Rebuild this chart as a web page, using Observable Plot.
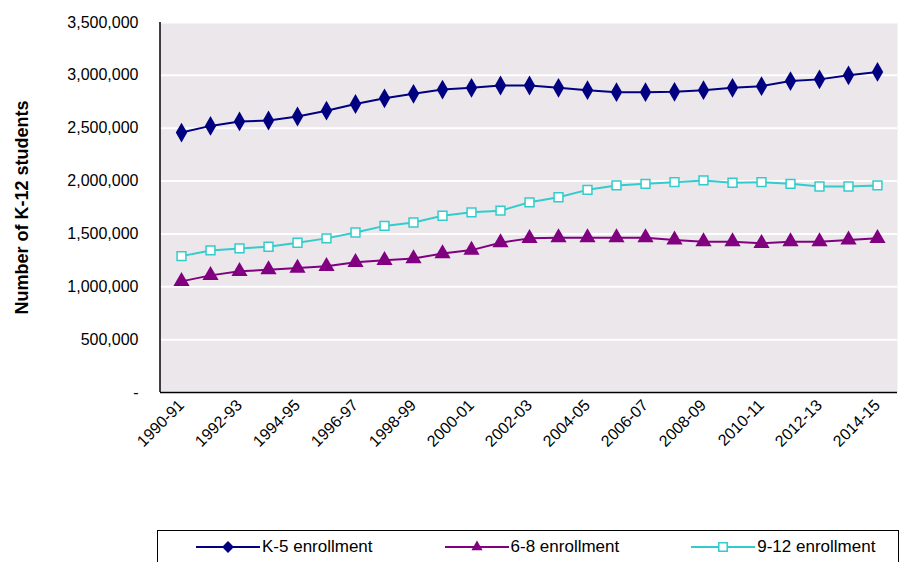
<!DOCTYPE html>
<html><head><meta charset="utf-8">
<script src="https://cdn.jsdelivr.net/npm/d3@7"></script>
<script src="https://cdn.jsdelivr.net/npm/@observablehq/plot@0.6"></script>
<style>
body{margin:0;background:#fff;font-family:Arial,"Liberation Sans",sans-serif;}
#legend{position:absolute;left:157px;top:530px;width:740px;height:32px;border:1px solid #000;border-bottom:none;display:flex;align-items:center;font-size:17px;}
#legend span{display:flex;align-items:center;}
#legend svg{margin-right:2px;}
</style></head>
<body>
<div id="chart"></div>
<div id="legend"></div>
<script>
const years = ["1990-91","1991-92","1992-93","1993-94","1994-95","1995-96","1996-97","1997-98","1998-99","1999-00","2000-01","2001-02","2002-03","2003-04","2004-05","2005-06","2006-07","2007-08","2008-09","2009-10","2010-11","2011-12","2012-13","2013-14","2014-15"];
const k5 = [2459000,2522000,2564000,2573000,2611000,2666000,2729000,2783000,2825000,2866000,2882000,2904000,2904000,2882000,2860000,2841000,2841000,2844000,2860000,2882000,2898000,2946000,2962000,3000000,3032000];
const g68 = [1051000,1108000,1146000,1162000,1178000,1194000,1232000,1251000,1267000,1315000,1347000,1417000,1458000,1465000,1465000,1465000,1465000,1443000,1427000,1427000,1411000,1427000,1427000,1443000,1458000];
const g912 = [1290000,1344000,1363000,1379000,1417000,1458000,1513000,1576000,1608000,1672000,1704000,1720000,1799000,1847000,1917000,1959000,1974000,1990000,2006000,1984000,1990000,1974000,1949000,1949000,1959000];
const seriesNames = ["K-5 enrollment","6-8 enrollment","9-12 enrollment"];
const colors = ["#000080","#800080","#33CCCC"];

const rows = [k5,g68,g912].flatMap((arr,i)=>arr.map((v,j)=>({year:years[j],value:v,series:seriesNames[i]})));
const s = i => rows.filter(d=>d.series===seriesNames[i]);
const fmt = d => d === 0 ? "-" : d3.format(",")(d);
const shown = years.filter((d,i)=>i%2===0);

const chart = Plot.plot({
  width: 899, height: 510,
  marginTop: 22, marginBottom: 118, marginLeft: 160, marginRight: 2,
  style: {fontFamily: "Arial, 'Liberation Sans', sans-serif", fontSize: "16px", color: "#000"},
  x: {type: "point", domain: years, padding: 0.5, label: null},
  y: {domain: [0,3500000], ticks: d3.range(0,3500001,500000), label: null},
  marks: [
    Plot.frame({fill: "#ebe7eb", stroke: null}),
    Plot.gridY({stroke: "#fff", strokeOpacity: 1, strokeWidth: 2}),
    Plot.axisY({tickSize: 0, tickPadding: 22, tickFormat: fmt, label: null}),
    Plot.axisX({tickSize: 0, tickRotate: -45, tickPadding: 10, ticks: shown, label: null}),
    Plot.ruleY([0], {stroke: "#000", strokeWidth: 1.5}),
    Plot.line(s(0), {x: "year", y: "value", stroke: colors[0], strokeWidth: 2}),
    Plot.line(s(1), {x: "year", y: "value", stroke: colors[1], strokeWidth: 2}),
    Plot.line(s(2), {x: "year", y: "value", stroke: colors[2], strokeWidth: 2}),
    Plot.dot(s(0), {x: "year", y: "value", symbol: "diamond", fill: colors[0], r: 6}),
    Plot.dot(s(1), {x: "year", y: "value", symbol: "triangle", fill: colors[1], r: 6}),
    Plot.dot(s(2), {x: "year", y: "value", symbol: "square", fill: "#fff", stroke: colors[2], strokeWidth: 1.5, r: 5}),
    Plot.text(["Number of K-12 students"], {frameAnchor: "left", dx: -138, rotate: -90, textAnchor: "middle", fontWeight: "bold", fontSize: 18})
  ]
});
d3.select(chart).append("line").attr("x1",160).attr("x2",160).attr("y1",22).attr("y2",392).attr("stroke","#000").attr("stroke-width",1.5);
document.getElementById("chart").appendChild(chart);

const leg = d3.select("#legend");
const syms = [d3.symbolDiamond2, d3.symbolTriangle2, d3.symbolSquare2];
seriesNames.forEach((n,i)=>{
  const sp = leg.append("span").style("margin-left", i===0 ? "38px" : "72px");
  const sv = sp.append("svg").attr("width",64).attr("height",16);
  sv.append("line").attr("x1",0).attr("x2",64).attr("y1",8).attr("y2",8).attr("stroke",colors[i]).attr("stroke-width",2);
  sv.append("path").attr("transform","translate(32,8)")
    .attr("d", d3.symbol(syms[i], 90)())
    .attr("fill", i===2?"#fff":colors[i]).attr("stroke", i===2?colors[2]:"none").attr("stroke-width",1.5);
  sp.append("span").text(n);
});
</script>
</body></html>
